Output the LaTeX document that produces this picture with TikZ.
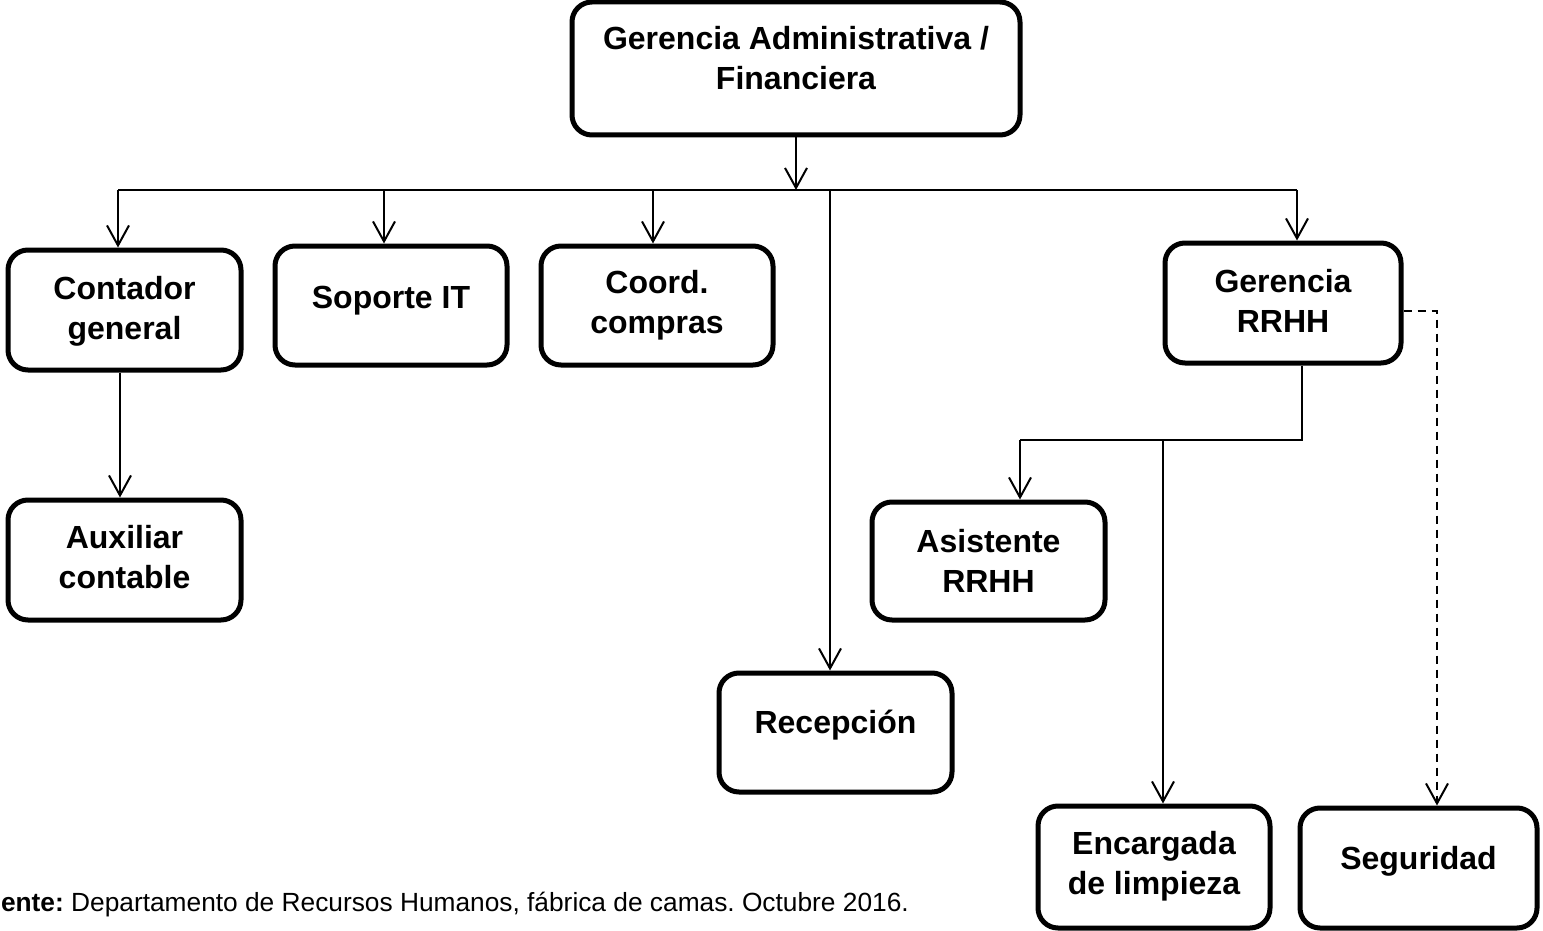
\documentclass[tikz,border=0pt]{standalone}
\usepackage{fontspec}
\setmainfont{Liberation Sans}
\usetikzlibrary{arrows.meta}

% box: name, centre x, centre y, width, height, text centre y, text
\newcommand\orgbox[7]{%
  \node[box, minimum width={#4*0.5pt}, minimum height={#5*0.5pt}] (#1) at (#2,#3) {};
  \node[lbl] (#1-t) at (#2,#6) {#7};
}

\begin{document}
\begin{tikzpicture}[x=0.5pt,y=-0.5pt,
  box/.style={draw, line width=2.5pt, rounded corners=10pt, fill=white, inner sep=0pt},
  lbl/.style={font=\fontsize{16}{20}\selectfont\bfseries, align=center, inner sep=0pt},
  conn/.style={line width=1pt},
  arr/.style={conn, -{Straight Barb[length=10pt,width=11pt,line width=1pt]}},
  dashconn/.style={arr, dash pattern=on 4pt off 3pt}
]
\clip (0,0) rectangle (1543,931);

% boxes
\orgbox{top}{796}{68.5}{448}{133}{58}{Gerencia Administrativa /\\Financiera}
\orgbox{cont}{124.5}{310}{233}{120}{311}{Contador\\general}
\orgbox{sop}{391}{305.5}{232}{119}{301}{Soporte IT}
\orgbox{coord}{657}{305.5}{232}{119}{305}{Coord.\\compras}
\orgbox{rec}{835.5}{732.5}{233}{119}{725}{Recepción}
\orgbox{rrhh}{1283}{303}{236}{120}{301}{Gerencia\\RRHH}
\orgbox{asis}{988.5}{561}{233}{118}{560.5}{Asistente\\RRHH}
\orgbox{aux}{124.5}{560}{233}{120}{557}{Auxiliar\\contable}
\orgbox{enc}{1154}{867}{232}{122}{866}{Encargada\\de limpieza}
\orgbox{seg}{1418.5}{868}{237}{120}{861}{Seguridad}

% main bus
\coordinate (busL) at (118,190);
\coordinate (busR) at (1297,190);
\coordinate (b1) at (384,190);
\coordinate (b2) at (653,190);
\coordinate (b3) at (830,190);
\draw[arr] (top.south) -- (top.south |- busL);
\draw[conn] (busL) -- (busR);
\draw[arr] (busL) -- (busL |- cont.north);
\draw[arr] (b1) -- (b1 |- sop.north);
\draw[arr] (b2) -- (b2 |- coord.north);
\draw[arr] (b3) -- (b3 |- rec.north);
\draw[arr] (busR) -- (busR |- rrhh.north);

% accounting
\coordinate (c1) at (120,0);
\draw[arr] (cont.south -| c1) -- (aux.north -| c1);

% human resources
\coordinate (hr) at (1302,440);
\coordinate (hl) at (1020,440);
\coordinate (hm) at (1163,440);
\draw[conn] (rrhh.south -| hr) -- (hr) -- (hl);
\draw[arr] (hl) -- (hl |- asis.north);
\draw[arr] (hm) -- (hm |- enc.north);
\coordinate (dx) at (1437,311);
\draw[dashconn] (rrhh.east |- dx) -- (dx) -- (dx |- seg.north);

% source note
\node[anchor=base west, inner sep=0pt, font=\fontsize{13.15}{15}\selectfont] (src) at (-31.5,911)
  {\frenchspacing\textbf{Fuente:} Departamento de Recursos Humanos, fábrica de camas. Octubre 2016.};
\end{tikzpicture}
\end{document}
